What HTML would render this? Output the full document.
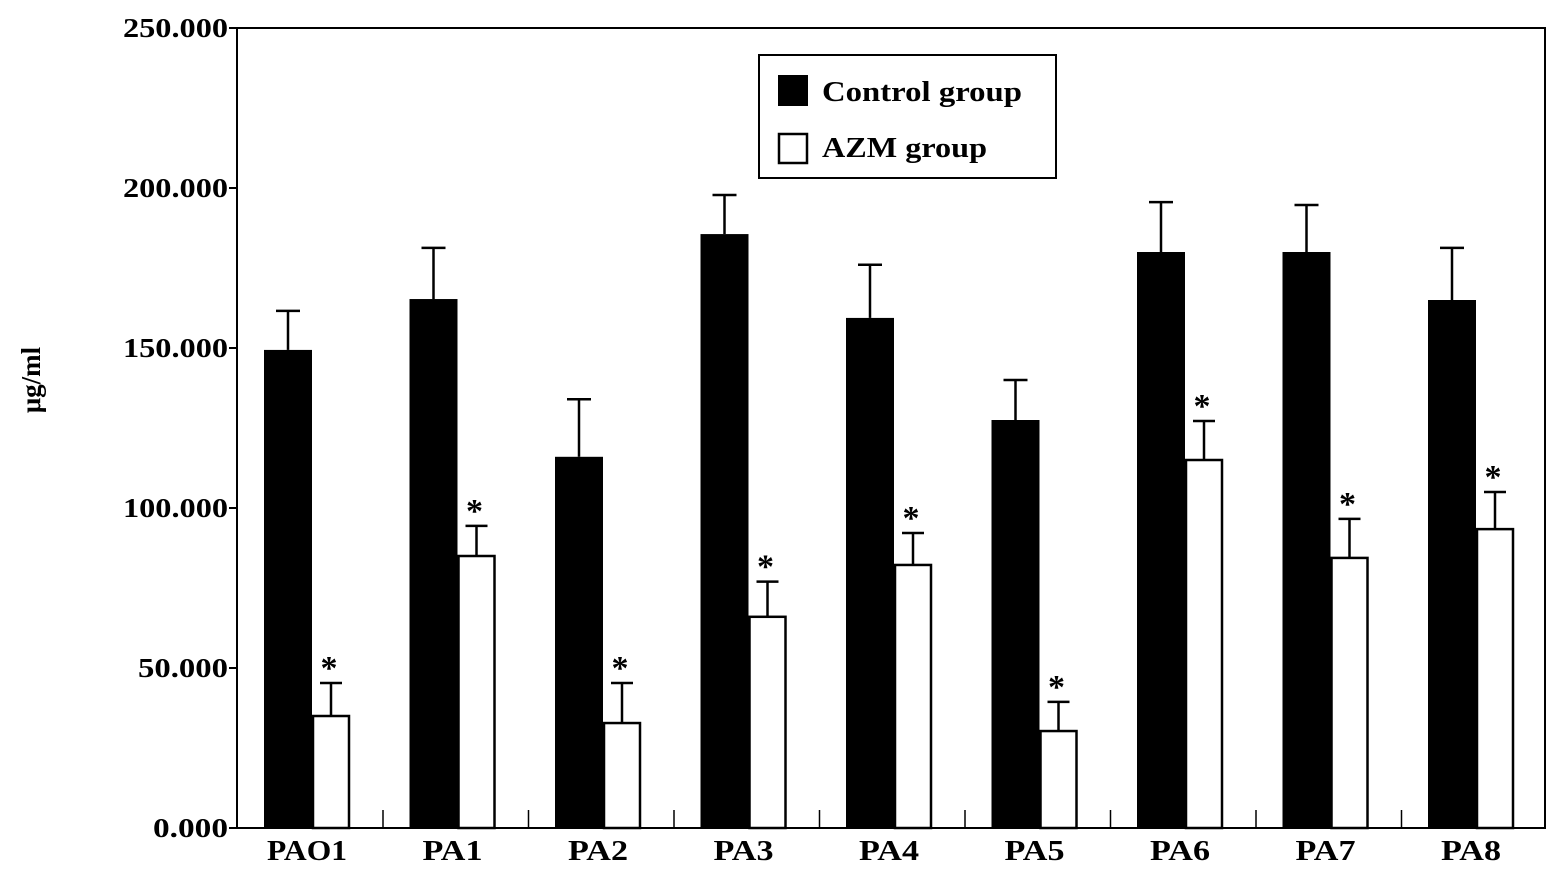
<!DOCTYPE html>
<html><head><meta charset="utf-8"><style>
html,body{margin:0;padding:0;background:#fff;}
svg{display:block;font-family:"Liberation Serif",serif;font-weight:bold;}
</style></head><body>
<svg id="chart" width="1559" height="875" viewBox="0 0 1559 875" xmlns="http://www.w3.org/2000/svg">
<rect x="237" y="28" width="1308" height="800" fill="#fff" stroke="#000" stroke-width="2"/>
<g id="yaxis"></g>
<g id="bars"></g>
<g id="xaxis"></g>
<text x="40" y="380" font-size="27" text-anchor="middle" transform="rotate(-90 40 380)">μg/ml</text>
<g>
<rect x="759" y="55" width="297" height="123" fill="#fff" stroke="#000" stroke-width="2"/>
<g><rect x="778" y="75" width="30" height="31" fill="#000"/><text x="822" y="101" font-size="29" textLength="200" lengthAdjust="spacingAndGlyphs">Control group</text></g>
<g><rect x="779" y="134" width="28" height="29" fill="#fff" stroke="#000" stroke-width="2.5"/><text x="822" y="157" font-size="29" textLength="165" lengthAdjust="spacingAndGlyphs">AZM group</text></g>
</g>
</svg>
<script>
const categories=["PAO1","PA1","PA2","PA3","PA4","PA5","PA6","PA7","PA8"];
const controlValues=[149.4,165.3,116,185.6,159.4,127.5,180,180,165];
const controlErrors=[12.2,16,18,12.2,16.6,12.5,15.6,14.7,16.3];
const azmValues=[35,85,32.8,66,82.2,30.3,115,84.4,93.4];
const azmErrors=[10.3,9.4,12.5,11,10,9.1,12.2,12.2,11.6];
const yTicks=[0,50,100,150,200,250];
const yTickLabels=["0.000","50.000","100.000","150.000","200.000","250.000"];
const NS="http://www.w3.org/2000/svg";
function y(v){return 828-v*3.2;}
function gx(i){return 264+i*145.5;}
function mk(t,a,p){const e=document.createElementNS(NS,t);for(const k in a)e.setAttribute(k,a[k]);p.appendChild(e);return e;}
const ya=document.getElementById('yaxis'),bg=document.getElementById('bars'),xa=document.getElementById('xaxis');
yTicks.forEach((v,i)=>{
 const l=mk('line',{x1:229,x2:237,y1:y(v),y2:y(v),stroke:'#000','stroke-width':2},ya);
 
 
 const lab=yTickLabels[i];
 const t=mk('text',{x:228,y:y(v)+9,'font-size':27,'text-anchor':'end',textLength:lab.length*15,lengthAdjust:'spacingAndGlyphs'},ya);
 t.textContent=lab;
 
 
});
categories.forEach((c,i)=>{
 const x0=gx(i),cw=48,aw=38;
 const cx=x0+cw/2,ax=x0+cw+aw/2;
 const b1=mk('rect',{x:x0,y:y(controlValues[i]),width:cw,height:y(0)-y(controlValues[i]),fill:'#000'},bg);
 
 
 mk('line',{x1:cx,x2:cx,y1:y(controlValues[i]),y2:y(controlValues[i]+controlErrors[i]),stroke:'#000','stroke-width':2.5},bg);
 mk('line',{x1:cx-12,x2:cx+12,y1:y(controlValues[i]+controlErrors[i]),y2:y(controlValues[i]+controlErrors[i]),stroke:'#000','stroke-width':2.5},bg);
 const b2=mk('rect',{x:x0+cw+1,y:y(azmValues[i]),width:aw-2,height:y(0)-y(azmValues[i]),fill:'#fff',stroke:'#000','stroke-width':2.5},bg);
 
 
 mk('line',{x1:ax,x2:ax,y1:y(azmValues[i]),y2:y(azmValues[i]+azmErrors[i]),stroke:'#000','stroke-width':2.5},bg);
 mk('line',{x1:ax-11,x2:ax+11,y1:y(azmValues[i]+azmErrors[i]),y2:y(azmValues[i]+azmErrors[i]),stroke:'#000','stroke-width':2.5},bg);
 const s=mk('text',{x:ax-2,y:y(azmValues[i]+azmErrors[i])-4,'font-size':34,'text-anchor':'middle'},bg);
 s.textContent='*';
 
 
 const t=mk('text',{x:x0+43,y:860,'font-size':28,'text-anchor':'middle',textLength:c.length*20,lengthAdjust:'spacingAndGlyphs'},xa);
 t.textContent=c;
 
 
 if(i<categories.length-1){
  const tx=x0+119;
  const tk=mk('line',{x1:tx,x2:tx,y1:810,y2:828,stroke:'#000','stroke-width':1.5},xa);
  
  
 }
});
</script>
</body></html>
